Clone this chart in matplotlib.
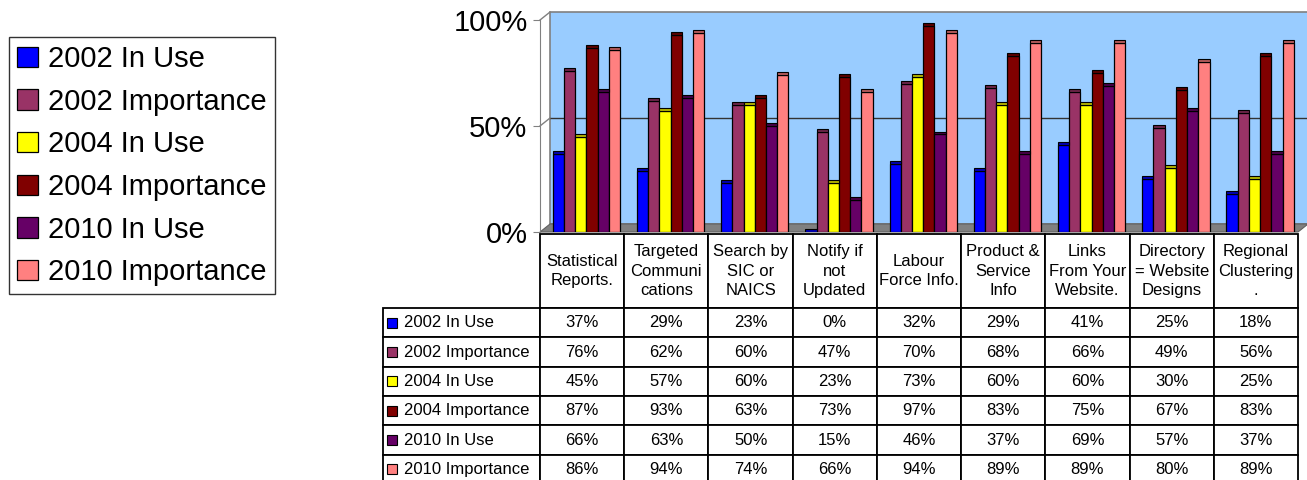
import matplotlib
matplotlib.use('Agg')
import matplotlib.pyplot as plt
from matplotlib.patches import Rectangle, Polygon
from matplotlib.table import Table
import matplotlib.colors as mcolors

plt.rcParams['font.family'] = ['Liberation Sans', 'DejaVu Sans']

categories = ['Statistical\nReports.', 'Targeted\nCommuni\ncations', 'Search by\nSIC or\nNAICS',
              'Notify if\nnot\nUpdated', 'Labour\nForce Info.', 'Product &\nService\nInfo',
              'Links\nFrom Your\nWebsite.', 'Directory\n= Website\nDesigns', 'Regional\nClustering\n.']
series_names = ['2002 In Use', '2002 Importance', '2004 In Use',
                '2004 Importance', '2010 In Use', '2010 Importance']
in_use_2002 = [37, 29, 23, 0, 32, 29, 41, 25, 18]
importance_2002 = [76, 62, 60, 47, 70, 68, 66, 49, 56]
in_use_2004 = [45, 57, 60, 23, 73, 60, 60, 30, 25]
importance_2004 = [87, 93, 63, 73, 97, 83, 75, 67, 83]
in_use_2010 = [66, 63, 50, 15, 46, 37, 69, 57, 37]
importance_2010 = [86, 94, 74, 66, 94, 89, 89, 80, 89]
series = [in_use_2002, importance_2002, in_use_2004, importance_2004, in_use_2010, importance_2010]
colors = ['#0000FF', '#993366', '#FFFF00', '#800000', '#660066', '#FF8080']

W, H = 1307, 480
fig = plt.figure(figsize=(W / 100, H / 100), dpi=100)

# chart area lines up with the table columns
ax = fig.add_axes([540 / W, (H - 232) / H, (1298 - 540) / W, 212 / H])
n = len(categories)
ax.set_xlim(-0.5, n - 0.5)
ax.set_ylim(0, 100)
ax.set_facecolor('none')

# pseudo 3d depth in data units
ddx, ddy = 0.12, 3.8
wall = Rectangle((-0.5 + ddx, ddy), n, 100, facecolor='#99CCFF', edgecolor='#808080',
                 lw=1.2, zorder=0, clip_on=False)
ax.add_patch(wall)
floor = Polygon([(-0.5, 0), (n - 0.5, 0), (n - 0.5 + ddx, ddy), (-0.5 + ddx, ddy)],
                closed=True, facecolor='#808080', edgecolor='#606060', lw=0.8,
                zorder=1, clip_on=False)
ax.add_patch(floor)
ax.plot([-0.5 + ddx, n - 0.5 + ddx], [50 + ddy, 50 + ddy], color='#333333', lw=1.0,
        zorder=1, clip_on=False)
for v in [50, 100]:
    ax.plot([-0.5, -0.5 + ddx], [v, v + ddy], color='#808080', lw=1.0, zorder=1, clip_on=False)

bw = 0.8 / len(series)
handles = []
for k, (vals, c, name) in enumerate(zip(series, colors, series_names)):
    xs = [i - 0.4 + 0.05 + (k + 0.5) * bw for i in range(n)]
    b = ax.bar(xs, vals, width=bw, color=c, edgecolor='black', lw=0.9, zorder=3, label=name)
    handles.append(b)
    dark = [x * 0.7 for x in mcolors.to_rgb(c)]
    ax.bar(xs, [1.4] * n, bottom=vals, width=bw, color=dark, edgecolor='black', lw=0.8, zorder=4)

for s in ['top', 'right', 'bottom']:
    ax.spines[s].set_visible(False)
ax.spines['left'].set_color('#808080')
ax.set_xticks([])
ax.set_yticks([0, 50, 100])
ax.set_yticklabels(['0%', '50%', '100%'], fontsize=21)
ax.tick_params(axis='y', length=5, color='#808080', pad=4)

# data table
tax = fig.add_axes([383 / W, (H - 484) / H, 915 / W, 250 / H])
tax.axis('off')
tbl = Table(tax, bbox=[0, 0, 1, 1])
lab_w, col_w, head_h, row_h = 157, 84.2, 74, 29.3
for j, cat in enumerate(categories):
    cell = tbl.add_cell(0, j + 1, col_w, head_h, text=cat, loc='center')
    cell.get_text().set_linespacing(1.35)
for r, (name, vals) in enumerate(zip(series_names, series)):
    cell = tbl.add_cell(r + 1, 0, lab_w, row_h, text=name, loc='left')
    cell.PAD = 0.134
    for j, v in enumerate(vals):
        tbl.add_cell(r + 1, j + 1, col_w, row_h, text=f'{v}%', loc='center')
tbl.auto_set_font_size(False)
tbl.set_fontsize(12)
for cell in tbl.get_celld().values():
    cell.set_linewidth(1.3)
tax.add_table(tbl)

total_h = head_h + row_h * len(series)
for r, c in enumerate(colors):
    yc = total_h - (head_h + row_h * r + row_h / 2)
    tax.plot([9.5 / 915], [yc / total_h], marker='s', ms=7, mfc=c, mec='black', mew=0.8,
             transform=tax.transAxes, clip_on=False)

leg = fig.legend(handles=handles, loc='upper left', bbox_to_anchor=(9 / W, 1 - 37 / H),
                 borderaxespad=0, fontsize=21, frameon=True, fancybox=False,
                 handlelength=0.7, handleheight=0.7, handletextpad=0.35,
                 labelspacing=0.5, borderpad=0.28)
leg.get_frame().set_edgecolor('black')
leg.get_frame().set_linewidth(1.0)

fig.savefig('out.png', dpi=100)
